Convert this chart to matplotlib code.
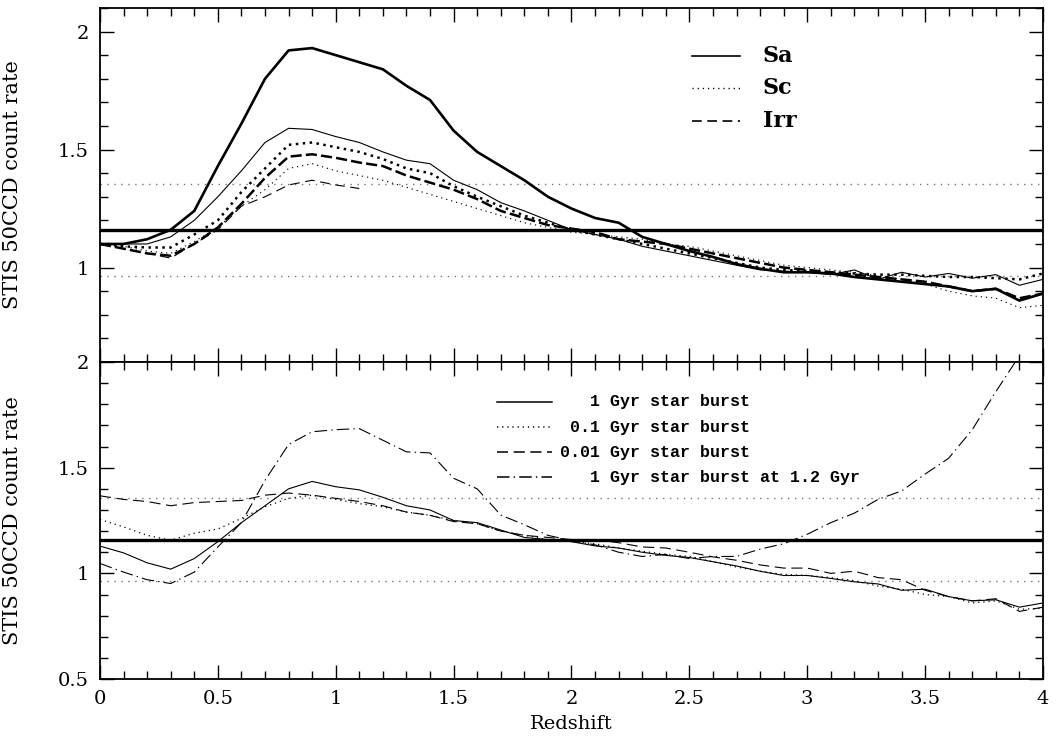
import numpy as np
import matplotlib
matplotlib.use("Agg")
import matplotlib.pyplot as plt
from matplotlib.ticker import MultipleLocator, FormatStrFormatter

plt.rcParams['font.family'] = 'DejaVu Serif'
plt.rcParams['lines.scale_dashes'] = False

# redshift grid (both panels)
z = [round(0.1 * i, 1) for i in range(41)]

# top panel: galaxy types, thick and thin versions
sa_thick = [1.10, 1.10, 1.12, 1.16, 1.24, 1.43, 1.61, 1.80, 1.92, 1.93,
            1.90, 1.87, 1.84, 1.77, 1.71, 1.58, 1.49, 1.43, 1.37, 1.30,
            1.25, 1.21, 1.19, 1.13, 1.10, 1.07, 1.045, 1.015, 0.995, 0.98,
            0.98, 0.975, 0.96, 0.95, 0.94, 0.93, 0.92, 0.90, 0.91, 0.86, 0.89]
sa_thin = [1.10, 1.10, 1.10, 1.13, 1.20, 1.30, 1.41, 1.53, 1.59, 1.585,
           1.555, 1.53, 1.49, 1.455, 1.44, 1.37, 1.33, 1.275, 1.24, 1.20,
           1.16, 1.14, 1.12, 1.09, 1.07, 1.05, 1.03, 1.01, 0.99, 0.985,
           0.98, 0.97, 0.99, 0.95, 0.98, 0.96, 0.975, 0.955, 0.97, 0.925, 0.95]
sc_thick = [1.10, 1.09, 1.085, 1.085, 1.14, 1.20, 1.32, 1.42, 1.52, 1.53,
            1.51, 1.49, 1.46, 1.42, 1.40, 1.345, 1.30, 1.26, 1.22, 1.19,
            1.16, 1.14, 1.12, 1.10, 1.08, 1.06, 1.04, 1.02, 1.00, 0.99,
            0.985, 0.98, 0.975, 0.97, 0.97, 0.965, 0.96, 0.96, 0.955, 0.95, 0.975]
sc_thin = [1.10, 1.09, 1.07, 1.06, 1.11, 1.17, 1.26, 1.33, 1.42, 1.44,
           1.41, 1.39, 1.37, 1.34, 1.31, 1.28, 1.25, 1.22, 1.19, 1.17,
           1.15, 1.14, 1.13, 1.12, 1.10, 1.09, 1.07, 1.05, 1.03, 1.01,
           1.00, 0.99, 0.98, 0.965, 0.95, 0.93, 0.90, 0.88, 0.87, 0.83, 0.84]
irr_thick = [1.10, 1.08, 1.06, 1.05, 1.10, 1.17, 1.27, 1.38, 1.47, 1.48,
             1.465, 1.445, 1.43, 1.39, 1.36, 1.33, 1.29, 1.24, 1.21, 1.18,
             1.165, 1.15, 1.12, 1.11, 1.10, 1.08, 1.06, 1.04, 1.02, 1.00,
             0.99, 0.98, 0.97, 0.96, 0.95, 0.94, 0.92, 0.90, 0.91, 0.87, 0.89]
irr_thin = [1.10, 1.08, 1.06, 1.04, 1.10, 1.16, 1.26, 1.30, 1.35, 1.37,
            1.35, 1.335]

# bottom panel: star burst models
burst_1 = [1.129, 1.097, 1.05, 1.02, 1.07, 1.15, 1.24, 1.32, 1.40, 1.435,
           1.41, 1.395, 1.36, 1.32, 1.30, 1.25, 1.24, 1.205, 1.17, 1.16,
           1.15, 1.13, 1.12, 1.10, 1.085, 1.075, 1.055, 1.035, 1.01, 0.99,
           0.99, 0.976, 0.96, 0.95, 0.92, 0.925, 0.89, 0.87, 0.875, 0.84, 0.86]
burst_01 = [1.255, 1.22, 1.18, 1.157, 1.19, 1.21, 1.26, 1.315, 1.355, 1.37,
            1.35, 1.33, 1.315, 1.29, 1.275, 1.25, 1.235, 1.20, 1.18, 1.16,
            1.15, 1.14, 1.12, 1.105, 1.09, 1.08, 1.055, 1.03, 1.01, 0.995,
            0.99, 0.98, 0.965, 0.94, 0.925, 0.90, 0.89, 0.86, 0.87, 0.83, 0.835]
burst_001 = [1.367, 1.35, 1.34, 1.32, 1.335, 1.34, 1.345, 1.37, 1.38, 1.37,
             1.355, 1.34, 1.32, 1.29, 1.275, 1.245, 1.235, 1.20, 1.18, 1.17,
             1.16, 1.16, 1.145, 1.125, 1.12, 1.10, 1.078, 1.062, 1.04, 1.025,
             1.025, 1.00, 1.01, 0.98, 0.97, 0.92, 0.89, 0.87, 0.88, 0.82, 0.84]
burst_late = [1.047, 1.006, 0.97, 0.952, 1.006, 1.125, 1.24, 1.44, 1.61, 1.67,
              1.68, 1.685, 1.63, 1.575, 1.57, 1.45, 1.40, 1.276, 1.23, 1.18,
              1.155, 1.135, 1.10, 1.08, 1.09, 1.07, 1.08, 1.08, 1.115, 1.14,
              1.185, 1.24, 1.285, 1.35, 1.39, 1.47, 1.545, 1.68, 1.86, 2.03, 2.2]

ref_line = 1.16
ref_band = [0.965, 1.355]

top_labels = ['Sa', 'Sc', 'Irr']
bot_labels = ['   1 Gyr star burst', ' 0.1 Gyr star burst',
              '0.01 Gyr star burst', '   1 Gyr star burst at 1.2 Gyr']

# line styles
solid = '-'
dot_thick = (0, (1.8, 3.2))
dot_thin = (0, (0.9, 2.8))
dash_thick = (0, (8, 3))
dash_thin = (0, (7, 4))
dash_b = (0, (8, 4))
dashdot = (0, (9, 3, 1, 3))

fig = plt.figure(figsize=(10.59, 7.36), dpi=100)
ax1 = fig.add_axes([0.0944, 0.5082, 0.8905, 0.481])
ax2 = fig.add_axes([0.0944, 0.0774, 0.8905, 0.4307])

for ax in (ax1, ax2):
    ax.axhline(ref_line, color='black', lw=2.4)
    for v in ref_band:
        ax.axhline(v, color='0.45', lw=1.0, ls=(0, (1, 4)))
    ax.set_xlim(0, 4)
    ax.xaxis.set_major_locator(MultipleLocator(0.5))
    ax.xaxis.set_minor_locator(MultipleLocator(0.1))
    ax.yaxis.set_major_locator(MultipleLocator(0.5))
    ax.yaxis.set_minor_locator(MultipleLocator(0.1))
    ax.xaxis.set_major_formatter(FormatStrFormatter('%g'))
    ax.yaxis.set_major_formatter(FormatStrFormatter('%g'))
    ax.tick_params(which='both', direction='in', top=True, right=True,
                   width=1.0, labelsize=14)
    ax.tick_params(which='major', length=10, pad=8)
    ax.tick_params(which='minor', length=5.5)
    for s in ax.spines.values():
        s.set_linewidth(1.3)
    ax.set_ylabel('STIS 50CCD count rate', fontsize=15)
    ax.yaxis.set_label_coords(-0.083, 0.5)

# top panel
ax1.plot(z, sa_thick, color='black', lw=1.9, ls=solid)
ax1.plot(z, sa_thin, color='black', lw=0.8, ls=solid)
ax1.plot(z, sc_thick, color='black', lw=1.8, ls=dot_thick)
ax1.plot(z, sc_thin, color='black', lw=0.8, ls=dot_thin)
ax1.plot(z, irr_thick, color='black', lw=1.8, ls=dash_thick)
ax1.plot(z[:len(irr_thin)], irr_thin, color='black', lw=0.8, ls=dash_thin)
ax1.set_ylim(0.6, 2.1)
ax1.tick_params(labelbottom=False)

top_styles = [(solid, 1.2), (dot_thin, 1.0), (dash_thin, 1.2)]
top_rows = [0.864, 0.774, 0.681]
for lab, (ls, lw), yy in zip(top_labels, top_styles, top_rows):
    ax1.plot([0.628, 0.679], [yy, yy], transform=ax1.transAxes,
             color='black', ls=ls, lw=lw)
    ax1.text(0.703, yy, lab, transform=ax1.transAxes, va='center',
             ha='left', fontsize=16, fontweight='bold')

# bottom panel
ax2.plot(z, burst_1, color='black', lw=0.8, ls=solid)
ax2.plot(z, burst_01, color='black', lw=0.9, ls=dot_thin)
ax2.plot(z, burst_001, color='black', lw=0.8, ls=dash_b)
ax2.plot(z, burst_late, color='black', lw=0.8, ls=dashdot)
ax2.set_ylim(0.5, 2.0)
ax2.set_xlabel('Redshift', fontsize=14, labelpad=5)

bot_styles = [solid, dot_thin, dash_b, dashdot]
bot_rows = [0.874, 0.795, 0.716, 0.637]
for lab, ls, yy in zip(bot_labels, bot_styles, bot_rows):
    ax2.plot([0.421, 0.479], [yy, yy], transform=ax2.transAxes,
             color='black', ls=ls, lw=1.1)
    ax2.text(0.488, yy, lab, transform=ax2.transAxes, va='center',
             ha='left', fontsize=12, fontweight='bold',
             family='Liberation Mono')

fig.savefig('out.png', dpi=100)
